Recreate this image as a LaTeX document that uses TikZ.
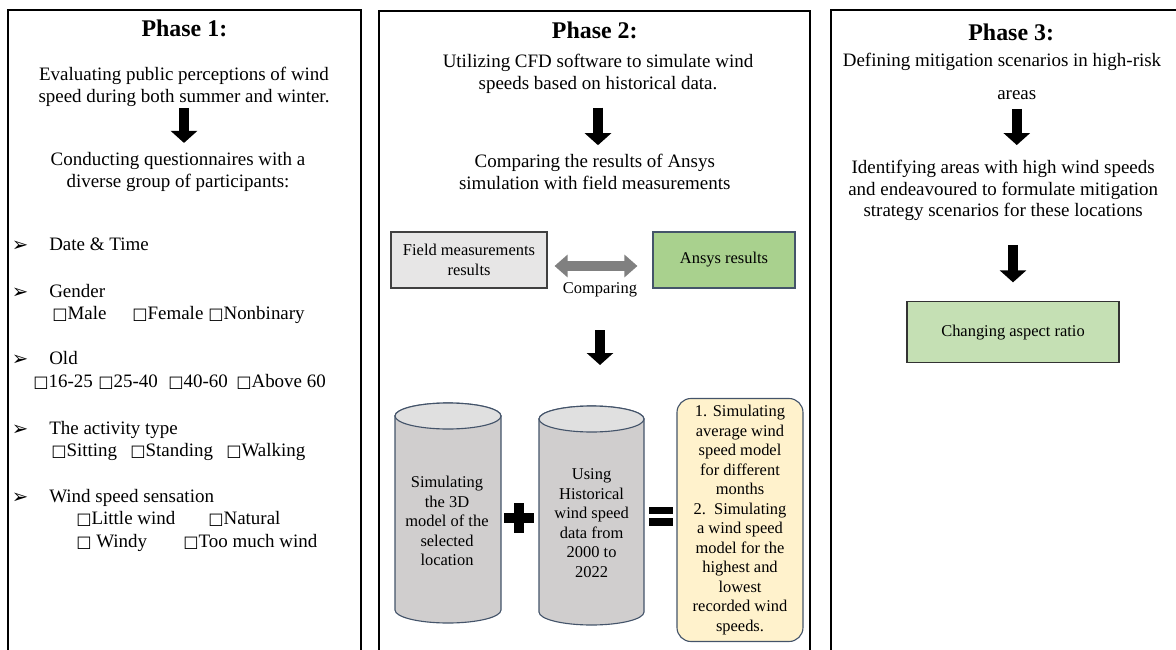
\documentclass[tikz,border=0pt]{standalone}
\usepackage{fontspec}
\setmainfont{Liberation Serif}
\newfontfamily\symfont{DejaVu Sans}
\usetikzlibrary{arrows.meta, positioning, calc}
\definecolor{boxgray}{RGB}{231,230,230}
\definecolor{cylgray}{RGB}{208,206,206}
\definecolor{cyllid}{RGB}{224,224,224}
\definecolor{slateblue}{RGB}{68,84,106}
\definecolor{ansysgreen}{RGB}{169,209,142}
\definecolor{palegreen}{RGB}{197,224,180}
\definecolor{paleyellow}{RGB}{255,242,204}
\newcommand{\tickbox}{{\symfont\fontsize{11.5}{11.5}\selectfont\char"25A1}}
\newcommand{\pointer}{{\symfont\fontsize{14}{14}\selectfont\char"27A2}}

\begin{document}
\begin{tikzpicture}[
        phase/.style={draw=black, line width=1.1pt},
        title/.style={font=\fontsize{17}{20}\selectfont\bfseries, inner sep=0pt},
        body/.style={font=\fontsize{13.5}{15.6}\selectfont, align=center, inner sep=0pt},
        small/.style={font=\fontsize{11.7}{13.9}\selectfont, align=center, inner sep=0pt},
        item/.style={font=\fontsize{13.5}{15.6}\selectfont, anchor=west, inner sep=0pt, text height=9.2pt, text depth=3pt},
        bullet/.style={inner sep=0pt},
        resbox/.style={small, draw, line width=0.8pt, minimum width=#1, minimum height=1.4cm},
        cylbody/.style={fill=cylgray, draw=slateblue, line width=0.8pt},
        cyllidstyle/.style={fill=cyllid, draw=slateblue, line width=0.8pt},
        blockarrow/.style={line width=0.24cm, -{Triangle[width=0.65cm, length=0.3cm]}},
        cmparrow/.style={line width=0.25cm, black!50, {Triangle[width=0.55cm, length=0.325cm]}-{Triangle[width=0.55cm, length=0.325cm]}}
    ]
        \useasboundingbox (0,0) rectangle (29.4,-16.25);

        % Phase frames
        \draw[phase] (0.2,-0.25)   rectangle (9.025,-16.6);
        \draw[phase] (9.475,-0.275) rectangle (20.25,-16.6);
        \draw[phase] (20.775,-0.25) rectangle (29.8,-16.6);

        % Phase 1
        \node[title] (title1) at (4.61,-0.72) {Phase 1:};
        \node[body]  (survey) at (4.6,-2.16) {Evaluating public perceptions of wind\\speed during both summer and winter.};
        \node[body]  (quest)  at (4.45,-4.31) {Conducting questionnaires with a\\diverse group of participants:};
        \draw[blockarrow, shorten <=0.04cm, shorten >=0.24cm] (survey.south) -- (survey.south |- quest.north);

        \node[bullet] (b1) at (0.5,-6.15)  {\pointer};
        \node[bullet] (b2) at (0.5,-7.325) {\pointer};
        \node[bullet] (b3) at (0.5,-9.0)   {\pointer};
        \node[bullet] (b4) at (0.5,-10.75) {\pointer};
        \node[bullet] (b5) at (0.5,-12.45) {\pointer};
        \node[item] (date)     at (1.225,-6.15)  {Date \& Time};
        \node[item] (gender)   at (1.225,-7.325) {Gender};
        \node[item] (genderop) at (1.3,-7.875)   {\makebox[2.0cm][l]{\tickbox Male}\makebox[1.9cm][l]{\tickbox Female}\tickbox Nonbinary};
        \node[item] (age)      at (1.225,-9.0)   {Old};
        \node[item] (ageop)    at (0.825,-9.575) {\makebox[1.625cm][l]{\tickbox 16-25}\makebox[1.75cm][l]{\tickbox 25-40}\makebox[1.7cm][l]{\tickbox 40-60}\tickbox Above 60};
        \node[item] (activity) at (1.225,-10.75)  {The activity type};
        \node[item] (actop)    at (1.275,-11.3)   {\makebox[1.975cm][l]{\tickbox Sitting}\makebox[2.4cm][l]{\tickbox Standing}\tickbox Walking};
        \node[item] (wind)     at (1.225,-12.45)  {Wind speed sensation};
        \node[item] (windopa)  at (1.9,-13.0)     {\makebox[3.3cm][l]{\tickbox Little wind}\tickbox Natural};
        \node[item] (windopb)  at (1.9,-13.575)   {\makebox[2.675cm][l]{\tickbox\ Windy}\tickbox Too much wind};

        % Phase 2
        \node[title] (title2)  at (14.87,-0.75) {Phase 2:};
        \node[body]  (cfd)     at (14.95,-1.85) {Utilizing CFD software to simulate wind\\speeds based on historical data.};
        \node[body]  (compare) at (14.87,-4.29) {Comparing the results of Ansys\\simulation with field measurements};
        \draw[blockarrow, shorten <=0.34cm, shorten >=0.21cm] (cfd.south) -- (cfd.south |- compare.north);

        \node[resbox=3.9cm, fill=boxgray, draw=black!75]     (field) at (11.725,-6.5) {Field measurements\\results};
        \node[resbox=3.55cm, fill=ansysgreen, draw=slateblue] (ansys) at (18.1,-6.5)   {Ansys results};
        \draw[cmparrow, shorten <=0.175cm, shorten >=0.375cm] ([yshift=-0.15cm]field.east) -- ([yshift=-0.15cm]ansys.west)
            node[small, text=black, midway, yshift=-0.6cm] (cmplabel) {Comparing};

        \filldraw[cylbody] (9.875,-10.4) -- (9.875,-15.25) arc[start angle=180, end angle=360, x radius=1.325, y radius=0.325]
            -- (12.525,-10.4) arc[start angle=0, end angle=180, x radius=1.325, y radius=0.325] -- cycle;
        \filldraw[cyllidstyle] (11.2,-10.4) ellipse[x radius=1.325, y radius=0.325];
        \filldraw[cylbody] (13.475,-10.475) -- (13.475,-15.3) arc[start angle=180, end angle=360, x radius=1.3125, y radius=0.325]
            -- (16.1,-10.475) arc[start angle=0, end angle=180, x radius=1.3125, y radius=0.325] -- cycle;
        \filldraw[cyllidstyle] (14.7875,-10.475) ellipse[x radius=1.3125, y radius=0.325];

        \node[small] (model)   at (11.175,-13.03) {Simulating\\the 3D\\model of the\\selected\\location};
        \node[small] (history) at (14.79,-13.075) {Using\\Historical\\wind speed\\data from\\2000 to\\2022};
        \draw[blockarrow, shorten <=0.7cm, shorten >=3.95cm] (cmplabel) -- (cmplabel |- history);

        % plus and equals
        \fill (12.6,-12.83) rectangle (13.35,-13.07);
        \fill (12.855,-12.575) rectangle (13.095,-13.325);
        \fill (16.225,-12.675) rectangle (16.825,-12.85);
        \fill (16.225,-12.95) rectangle (16.825,-13.15);

        \node[small, draw=slateblue, fill=paleyellow, line width=0.8pt, rounded corners=0.35cm,
              minimum width=3.15cm, minimum height=6.075cm] (outcome) at (18.5,-13.0)
            {1. Simulating\\average wind\\speed model\\for different\\months\\2.\ \ Simulating\\a wind speed\\model for the\\highest and\\lowest\\recorded wind\\speeds.};

        % Phase 3
        \node[title] (title3) at (25.28,-0.8)  {Phase 3:};
        \node[body]  (define) at (25.05,-1.55) {Defining mitigation scenarios in high-risk};
        \node[body]  (areas)  at (25.42,-2.375) {areas};
        \node[body]  (ident)  at (25.08,-4.76) {Identifying areas with high wind speeds\\and endeavoured to formulate mitigation\\strategy scenarios for these locations};
        \node[small, draw=black!80, fill=palegreen, line width=0.8pt, minimum width=5.3cm, minimum height=1.525cm] (aspect) at (25.325,-8.31) {Changing aspect ratio};
        \draw[blockarrow, shorten <=0.225cm, shorten >=0.36cm] (areas.south) -- (areas.south |- ident.north);
        \draw[blockarrow, shorten <=0.59cm, shorten >=0.475cm] (aspect.north |- ident.south) -- (aspect.north);
    \end{tikzpicture}
\end{document}
